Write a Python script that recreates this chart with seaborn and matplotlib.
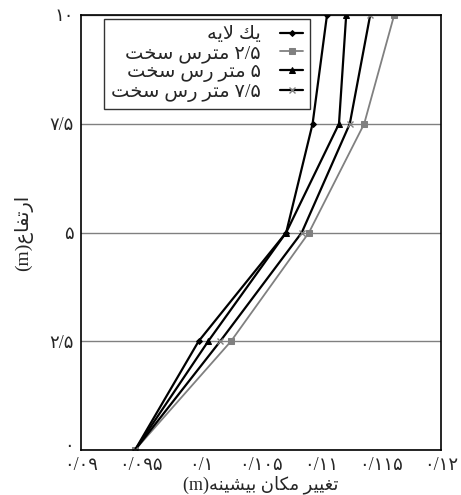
import pandas as pd
import seaborn as sns
import matplotlib.pyplot as plt
from matplotlib.transforms import ScaledTranslation

# ارتفاع (m) و تغییر مکان بیشینه (m) برای هر حالت
heights = [0, 2.5, 5, 7.5, 10]
one_layer = [0.0945, 0.0998, 0.1071, 0.1093, 0.1105]
clay_2_5 = [0.0945, 0.1025, 0.1090, 0.1136, 0.1161]
clay_5 = [0.0945, 0.1006, 0.1071, 0.1115, 0.1121]
clay_7_5 = [0.0945, 0.1016, 0.1084, 0.1124, 0.1141]

x_ticks = [0.09, 0.095, 0.1, 0.105, 0.11, 0.115, 0.12]
x_tick_labels = ["۰/۰۹", "۰/۰۹۵", "۰/۱", "۰/۱۰۵", "۰/۱۱", "۰/۱۱۵", "۰/۱۲"]
y_ticks = [0, 2.5, 5, 7.5, 10]
y_tick_labels = ["۰", "۲/۵", "۵", "۷/۵", "۱۰"]

# matplotlib ne fait ni shaping ni bidi : formes de présentation + ordre visuel à la main
FORMS = {  # isolated, final, initial, medial
    'ا': (0xFE8D, 0xFE8E, None, None),
    'ب': (0xFE8F, 0xFE90, 0xFE91, 0xFE92),
    'ت': (0xFE95, 0xFE96, 0xFE97, 0xFE98),
    'خ': (0xFEA5, 0xFEA6, 0xFEA7, 0xFEA8),
    'ر': (0xFEAD, 0xFEAE, None, None),
    'س': (0xFEB1, 0xFEB2, 0xFEB3, 0xFEB4),
    'ش': (0xFEB5, 0xFEB6, 0xFEB7, 0xFEB8),
    'ع': (0xFEC9, 0xFECA, 0xFECB, 0xFECC),
    'غ': (0xFECD, 0xFECE, 0xFECF, 0xFED0),
    'ف': (0xFED1, 0xFED2, 0xFED3, 0xFED4),
    'ک': (0xFED9, 0xFEDA, 0xFEDB, 0xFEDC),
    'ل': (0xFEDD, 0xFEDE, 0xFEDF, 0xFEE0),
    'م': (0xFEE1, 0xFEE2, 0xFEE3, 0xFEE4),
    'ن': (0xFEE5, 0xFEE6, 0xFEE7, 0xFEE8),
    'ه': (0xFEE9, 0xFEEA, 0xFEEB, 0xFEEC),
    'ی': (0xFEF1, 0xFEF2, 0xFEF3, 0xFEF4),
}


def shape(word):
    out = []
    prev_joins = False
    i = 0
    while i < len(word):
        c = word[i]
        if c == 'ل' and i + 1 < len(word) and word[i + 1] == 'ا':
            out.append(chr(0xFEFC if prev_joins else 0xFEFB))
            prev_joins = False
            i += 2
            continue
        iso, fin, ini, med = FORMS[c]
        joins_next = ini is not None and i + 1 < len(word) and word[i + 1] in FORMS
        if prev_joins and joins_next:
            g = med
        elif prev_joins:
            g = fin
        elif joins_next:
            g = ini
        else:
            g = iso
        out.append(chr(g))
        prev_joins = joins_next
        i += 1
    return ''.join(reversed(out))


def rtl(*parts):
    # mots dans l'ordre logique -> chaîne en ordre visuel (droite à gauche)
    vis = [p if p[0] in '۰۱۲۳۴۵۶۷۸۹(' else shape(p) for p in parts]
    return ' '.join(reversed(vis))


labels = [
    rtl("یک", "لایه"),
    rtl("۲/۵", "مترس", "سخت"),
    rtl("۵", "متر", "رس", "سخت"),
    rtl("۷/۵", "متر", "رس", "سخت"),
]
x_label = "(m)" + rtl("تغییر", "مکان", "بیشینه")
y_label = "(m)" + shape("ارتفاع")

sns.set_style("white")
plt.rcParams['font.family'] = ['Liberation Serif', 'DejaVu Sans']

fig = plt.figure(figsize=(4.61, 4.95), dpi=100)
ax = fig.add_axes([0.1757, 0.0909, 0.7809, 0.8788])

styles = [
    dict(color='black', marker='D', markersize=3, lw=1.6, mec='black', mfc='black'),
    dict(color='#808080', marker='s', markersize=5, lw=1.3, mec='#808080', mfc='#808080'),
    dict(color='black', marker='^', markersize=5, lw=1.6, mec='black', mfc='black'),
    dict(color='black', marker='x', markersize=5, lw=1.6, mec='#808080', mew=1),
]
series = [one_layer, clay_2_5, clay_5, clay_7_5]
for vals, lab, st in zip(series, labels, styles):
    df = pd.DataFrame({'x': vals, 'h': heights})
    sns.lineplot(data=df, x='x', y='h', label=lab, ax=ax, sort=False, **st)

ax.set_xlim(0.09, 0.12)
ax.set_ylim(0, 10)
ax.set_xticks(x_ticks)
ax.set_xticklabels(x_tick_labels, fontsize=13)
ax.set_yticks(y_ticks)
ax.set_yticklabels(y_tick_labels, fontsize=13)
ax.tick_params(axis='both', direction='out', length=3, width=1, color='black', pad=2)
ax.tick_params(axis='x', pad=2)
ax.yaxis.grid(True, color='#808080', lw=1)
ax.set_axisbelow(True)
for sp in ax.spines.values():
    sp.set_color('black')
    sp.set_linewidth(1.2)

# le "۰" de l'axe y un peu plus haut, comme dans l'original
zero_lab = ax.get_yticklabels()[0]
zero_lab.set_transform(zero_lab.get_transform() + ScaledTranslation(0, 4 / 72, fig.dpi_scale_trans))

ax.set_xlabel(x_label, fontsize=13, labelpad=1)
ax.set_ylabel(y_label, fontsize=14, labelpad=12)

leg = ax.legend(loc='upper left', bbox_to_anchor=(0.064, 0.991), borderaxespad=0,
                markerfirst=False, fancybox=False, frameon=True, fontsize=14,
                handlelength=1.2, handletextpad=1.0, labelspacing=0.05, borderpad=0.35)
leg.get_frame().set_edgecolor('black')
leg.get_frame().set_linewidth(1)

plt.savefig("out.png", dpi=100)
plt.close()
